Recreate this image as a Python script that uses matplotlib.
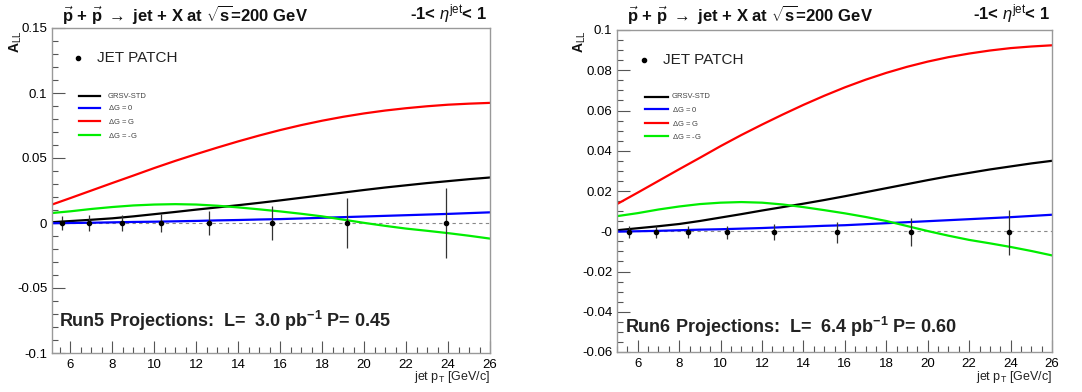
import matplotlib
matplotlib.use('Agg')
import matplotlib.pyplot as plt
from matplotlib.ticker import MultipleLocator

plt.rcParams['font.family'] = ['Liberation Sans', 'DejaVu Sans']
plt.rcParams['mathtext.fontset'] = 'custom'
plt.rcParams['mathtext.rm'] = 'Liberation Sans'
plt.rcParams['mathtext.it'] = 'Liberation Sans:italic'
plt.rcParams['mathtext.bf'] = 'Liberation Sans:bold'

# theory curves (same in both panels)
pt_curve = [5, 6, 7, 8, 9, 10, 11, 12, 13, 14, 15, 16, 17, 18, 19, 20, 21, 22, 23, 24, 25, 26]
grsv_std = [0.0005, 0.0015, 0.0025, 0.0036, 0.0051, 0.0068, 0.0085, 0.0103, 0.012, 0.0137, 0.0155,
            0.0174, 0.0194, 0.0214, 0.0234, 0.0254, 0.0273, 0.029, 0.0307, 0.0322, 0.0337, 0.035]
dg_zero = [-0.0002, 0.0, 0.0002, 0.0005, 0.0008, 0.001, 0.0013, 0.0016, 0.002, 0.0023, 0.0027,
           0.003, 0.0035, 0.004, 0.0045, 0.005, 0.0055, 0.006, 0.0065, 0.007, 0.0076, 0.0082]
dg_g = [0.0135, 0.0192, 0.025, 0.0308, 0.0365, 0.0423, 0.0478, 0.053, 0.058, 0.0628, 0.0673,
        0.0715, 0.0753, 0.0787, 0.0817, 0.0843, 0.0865, 0.0883, 0.0898, 0.091, 0.0918, 0.0924]
dg_mg = [0.0075, 0.009, 0.0108, 0.0123, 0.0135, 0.0142, 0.0145, 0.0142, 0.0133, 0.012, 0.0105,
         0.0089, 0.0071, 0.0051, 0.0026, 0.0001, -0.0022, -0.0043, -0.006, -0.0078, -0.0098, -0.012]

# projected data points
pt_points = [5.6, 6.9, 8.45, 10.3, 12.6, 15.6, 19.2, 23.9]
all_run5 = [0, 0, 0, 0, 0, 0, 0, 0]
err_run5 = [0.0055, 0.0065, 0.0065, 0.007, 0.0095, 0.013, 0.019, 0.027]
all_run6 = [-0.0005, -0.0005, -0.0005, -0.0005, -0.0005, -0.0005, -0.0005, -0.0005]
err_run6 = [0.003, 0.003, 0.003, 0.0032, 0.004, 0.0052, 0.007, 0.0112]

yticks_run5 = [-0.1, -0.05, 0, 0.05, 0.1, 0.15]
ylabels_run5 = ['-0.1', '-0.05', '0', '0.05', '0.1', '0.15']
yticks_run6 = [-0.06, -0.04, -0.02, 0, 0.02, 0.04, 0.06, 0.08, 0.1]
ylabels_run6 = ['-0.06', '-0.04', '-0.02', '-0', '0.02', '0.04', '0.06', '0.08', '0.1']
xticks = [6, 8, 10, 12, 14, 16, 18, 20, 22, 24, 26]

W, H = 1082, 392
fig = plt.figure(figsize=(W / 100, H / 100), dpi=100)


def panel(rect, xlim, ylim, yticks, ylabels, yminor, vals, errs, runtext, leg_px):
    ax = fig.add_axes([rect[0] / W, 1 - rect[3] / H, (rect[2] - rect[0]) / W, (rect[3] - rect[1]) / H])
    ax.set_xlim(*xlim)
    ax.set_ylim(*ylim)
    ax.axhline(0, color='#888888', lw=0.8, ls=(0, (3, 3)), zorder=1)
    ax.plot(pt_curve, grsv_std, color='black', lw=1.6, label='GRSV-STD')
    ax.plot(pt_curve, dg_zero, color='#0000ff', lw=1.6, label=r'$\Delta$G = 0')
    ax.plot(pt_curve, dg_g, color='#ff0000', lw=1.6, label=r'$\Delta$G = G')
    ax.plot(pt_curve, dg_mg, color='#00ee00', lw=1.6, label=r'$\Delta$G = -G')
    ax.errorbar(pt_points, vals, yerr=errs, fmt='o', ms=3, color='black', ecolor='#333333',
                elinewidth=0.9, capsize=0, zorder=5)
    ax.set_xticks(xticks)
    ax.xaxis.set_minor_locator(MultipleLocator(0.5))
    ax.set_yticks(yticks)
    ax.set_yticklabels(ylabels)
    ax.yaxis.set_minor_locator(MultipleLocator(yminor))
    ax.tick_params(which='both', direction='in', top=False, right=False, labelsize=9.5,
                   color='#555555', width=0.8)
    ax.tick_params(which='major', length=9)
    ax.tick_params(which='minor', length=4.5)
    ax.tick_params(axis='x', pad=4)
    for s in ax.spines.values():
        s.set_color('#999999')
        s.set_linewidth(1.0)

    # legend drawn by hand in ROOT style
    lx0, lx1, ltx, ly = leg_px
    tr = ax.transAxes.inverted()

    def to_ax(px, py):
        return tr.transform(fig.transFigure.transform((px / W, 1 - py / H)))

    a0 = to_ax(lx0 - 1, ly[0])
    ax.plot([a0[0]], [a0[1]], 'o', ms=3, color='black', transform=ax.transAxes)
    a1 = to_ax(lx0 + 18, ly[0])
    ax.text(a1[0], a1[1], 'JET PATCH', transform=ax.transAxes, fontsize=11,
            color='#222222', va='center', ha='left')
    for line, yy in zip(ax.lines[1:5], ly[1:]):
        p0 = to_ax(lx0, yy)
        p1 = to_ax(lx1, yy)
        ax.plot([p0[0], p1[0]], [p0[1], p1[1]], color=line.get_color(), lw=1.6,
                transform=ax.transAxes)
        pt = to_ax(ltx, yy)
        ax.text(pt[0], pt[1], line.get_label(), transform=ax.transAxes, fontsize=5.5,
                color='#444444', va='center', ha='left')

    r = to_ax(runtext[0], runtext[1])
    ax.text(r[0], r[1], runtext[2], transform=ax.transAxes, fontsize=13, fontweight='bold',
            color='#222222', va='center', ha='left')
    return ax


ax1 = panel((52, 28, 490, 353), (5.12, 26), (-0.1, 0.15), yticks_run5, ylabels_run5, 0.01,
            all_run5, err_run5,
            (59, 321, r'Run5 Projections:  L=  3.0 pb$^{\mathbf{-1}}$ P= 0.45'),
            (79, 100, 108, [58, 96, 108, 121, 135]))
ax2 = panel((617, 30, 1052, 352), (5.0, 26), (-0.06, 0.1), yticks_run6, ylabels_run6, 0.005,
            all_run6, err_run6,
            (625, 327, r'Run6 Projections:  L=  6.4 pb$^{\mathbf{-1}}$ P= 0.60'),
            (645, 668, 672, [60, 97, 109, 123, 136]))

title = r'$\vec{\mathbf{p}}$ + $\vec{\mathbf{p}}$ $\rightarrow$ jet + X at $\sqrt{\mathbf{s}}$=200 GeV'
eta = r'-1< $\eta^{\mathrm{jet}}$< 1'
for x_t, x_e in [(62, 487), (627, 1050)]:
    fig.text(x_t / W, 1 - 14 / H, title, fontsize=12, fontweight='bold', va='center', ha='left',
             color='#111111')
    fig.text(x_e / W, 1 - 14 / H, eta, fontsize=12, fontweight='bold', va='center', ha='right',
             color='#111111')

for x_a, y_a in [(16, 42), (580, 42)]:
    fig.text(x_a / W, 1 - y_a / H, r'A$_{\mathrm{LL}}$', fontsize=10, fontweight='bold',
             rotation=90, va='center', ha='center', color='#111111')

for x_l in [490, 1052]:
    fig.text(x_l / W, 1 - 377 / H, r'jet p$_{\mathrm{T}}$ [GeV/c]', fontsize=9,
             va='center', ha='right', color='#222222')

fig.savefig('out.png', dpi=100)
